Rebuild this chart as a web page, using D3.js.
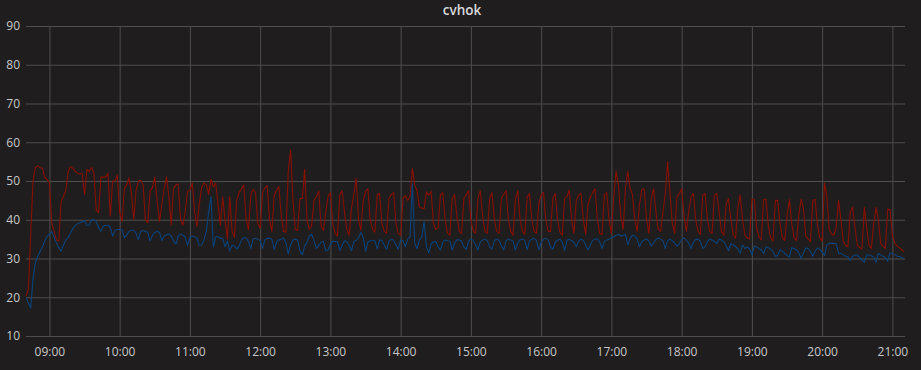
<!DOCTYPE html>
<html>
<head>
<meta charset="utf-8">
<script src="https://cdn.jsdelivr.net/npm/d3@7"></script>
<style>
  html, body { margin: 0; padding: 0; background: #1f1d1e; }
  svg { display: block; }
  text { font-family: "Open Sans", "Noto Sans", sans-serif; }
</style>
</head>
<body>
<svg id="chart" width="921" height="370"></svg>
<script>
const title = "cvhok";
const startTime = "2016-01-01T08:40:00";
const stepMinutes = 2;
const yTicks = [10, 20, 30, 40, 50, 60, 70, 80, 90];
const xTickLabels = ["09:00","10:00","11:00","12:00","13:00","14:00","15:00","16:00","17:00","18:00","19:00","20:00","21:00"];

const redSeries = [
20.3,22,36,50,53.5,53.9,53.4,53.3,51,50.3,49.6,39.1,37,34.8,34.5,44.8,46,47.5,52.5,53.7,53.3,52.5,52,51.8,52,46.5,53,52.5,53.5,52,42.5,41.8,51,51,51,52,41,50,50,51.5,42,39.5,48,49,50.8,47,40,47.5,50,50.2,49,40,39.2,47.5,48.3,51,45,39.5,44,48,51,46,38.7,48,49,49.2,40,38.6,42,47.3,47.6,49.5,42,38.2,44,48.3,
49.5,49,46.5,50.5,48.5,49.5,44,38.5,46,40,35,46,37,35.5,45,47,48,49,40,37.4,46.5,47.8,47,39,37.8,47,48.2,48.8,40,37,46.3,47.6,48.5,41,37,36.8,52.5,58,45,37.5,37.2,45.5,45.5,53,40,37.5,38.5,45,46,47.4,38.5,37.3,42,46,47,39,36.5,35.8,46.4,47.5,42,37.5,36,43,46.5,50.7,40,37.3,45,47.3,48,40,37.5,36.8,46.5,
46.8,39,37,36.5,45.5,46.5,47,39,36.5,36,45.5,46.3,45,46,53.3,49,47.5,43.3,43,42.8,47.2,46.3,47.3,39,37.5,38,46.5,47,40,36.5,36,45.5,46.5,41,37,36.5,45.5,46.5,47.5,40,37,36.5,45.5,47.5,41,37,36.5,45.5,47,40,37,36.5,45.5,46.5,47.5,40,37,36,45.3,47.5,40,37,36.3,45.8,46.8,40,37,36.5,44,46.5,47,40,37,37,45.5,
46.8,40,36.8,36,45.5,46,47.7,40,36.5,45,46.3,46.8,40,36.3,44,45.8,47,48,40,36.5,36.2,46.5,47,40,36.5,46,52.5,49,41,37.5,48,52.5,48,46.5,40,37,44,47.8,48,40,36.5,45.5,48,42,37.5,37,42,46.5,55,47,39,36.5,45.8,46.8,48,41,37,42,46,46.8,40,37,36.2,46.3,46.8,40,37,36.5,46.3,46.8,42,37,36,44,45.5,
40,36.2,35.3,43,46.4,40,36,35.3,35,45.3,45.3,38,35.5,34.8,45.3,45.3,38.5,35.3,34.5,45,45,39,35.3,34.6,41,45.2,39,35.3,34.6,41,45.3,43,35.8,35,34.3,45,45.3,38.5,35.3,34.5,49.5,46,37.5,36.3,36,38,45,40,34.5,33.4,33,42,43.3,38,33.5,32.8,32.5,43.2,38,33.4,32.6,39,43.2,40,33.8,33.2,32.6,42.8,42.6,36,34,33.2,32.8,32.2,31.8
];

const blueSeries = [
19.9,18.5,17.2,24.8,29,30.5,31.8,33,34.5,35.7,36.3,36.9,35.5,34,32.8,31.9,33.5,34.8,35.4,36.5,37.8,38.5,39,39.2,39.5,39.8,38.5,38.6,40,40,39.5,38,37,38.3,38.6,38.6,38,35.8,37.2,37.5,37.5,37.4,35.4,36,37,37.3,37.3,36.5,34.8,37,37.2,37,36.8,34.5,36,36.7,37,36.8,34.6,35.8,36.1,36.3,35.8,34.5,33.7,35.8,36.3,36,35.6,33.4,35.4,35.8,35.6,35.3,33.4,33.5,
34.8,37,42,46,33,35.6,35.6,35.2,35.2,33,34.5,31.9,33.4,33.2,32.5,33.2,34.8,35.4,35.3,34.4,32.6,35,35.2,35,34.6,32.6,34.8,35.2,35.2,35,32.3,34.2,34.8,35,35.3,34,31.2,33.5,34.8,35,34.8,32,31,33.2,34.2,35.8,36.2,34.6,32.6,33.4,34.2,34.4,32,32.2,33.7,34.5,34.4,34.4,32,33.4,34.6,34.4,33.4,32,34.4,34.7,35.3,36.7,35.5,31.8,34.3,34.6,34.6,34.6,32.4,
34.8,34.6,33.5,32.3,34.5,35,34.7,33.5,32.4,34.8,34.6,33,35,35.6,49.3,34,32.5,34.8,35.5,39.5,33,31.5,33.8,34.3,34.4,33,32.2,34.2,34.8,34.6,34.5,32.2,34,34.8,34.8,34.5,33,32.3,34.5,35,34.7,33.5,32.2,34.3,34.8,35,34.6,33,32.4,34.6,35,34.7,33.3,32.2,34.6,35,34.8,34.5,32.2,34,34.8,35,34.7,32.3,34.5,35,35.2,34.6,32.2,34.2,35,35.2,34.8,33,32.4,
34.2,34.7,35,34.2,32,34.7,35,34.6,34.2,33,34.5,35,34.7,33.5,32.2,33.5,34.7,35,35.1,34.3,32.6,34.4,34.8,35,35.3,35.6,36,36.2,35.8,36,36.2,33.5,35.2,36,35.8,35,33,34.4,34.8,35.1,34.5,33.2,34,34.9,35.3,35,34.6,32.6,34.6,35,34.6,34,33.2,33.8,35,35.3,34.7,34,32.6,34.2,34.9,35,34.4,32.6,33,34.4,35,34.8,34.4,33.8,35,34.8,34.3,33.3,32,
33.8,33.5,33.1,32.5,31.3,33.5,32.6,33,32.5,30.9,33.2,33,32.6,32.2,31.3,33,32.8,32.4,31.8,30.6,30.8,32.2,31.9,31.3,30.8,30.4,32.8,32.6,32.2,31.5,30,31.5,32.7,32.6,31.8,30.6,31.8,32.7,32.4,31.6,30.8,33.5,33.9,33.9,33.9,33.8,31.3,31.3,31,30.6,30.4,29.5,30.6,30.9,30.9,30.3,29.6,29,30.9,30.9,30.7,30.3,29,31.3,30.9,30.6,30.2,29.3,31.5,31.3,31,30.6,30.5,30.2,30
];

(function () {
const svg = d3.select("#chart");
const W = 921, H = 370;
const plotLeft = 26, plotRight = 905, plotTop = 26, plotBottom = 336;

svg.append("rect").attr("width", W).attr("height", H).attr("fill", "#1f1d1e");

const t0 = new Date(startTime);
const timeAt = i => new Date(t0.getTime() + i * stepMinutes * 60000);

const x = d3.scaleTime()
  .domain([new Date("2016-01-01T08:40:00"), new Date("2016-01-01T21:10:45")])
  .range([plotLeft, plotRight]);
const y = d3.scaleLinear().domain([10, 90]).range([plotBottom, plotTop]);

const xTickDates = xTickLabels.map(s => new Date("2016-01-01T" + s + ":00"));

const yAxis = svg.append("g")
  .attr("transform", `translate(${plotLeft},0)`)
  .call(d3.axisLeft(y).tickValues(yTicks).tickSize(-(plotRight - plotLeft)).tickPadding(6).tickFormat(d3.format("d")));
yAxis.select(".domain").remove();
yAxis.selectAll("line").attr("stroke", "#4f4e4f").attr("stroke-width", 1);
yAxis.selectAll("text").attr("fill", "#c8c8c8").attr("font-size", 12);

const xAxis = svg.append("g")
  .attr("transform", `translate(0,${plotBottom})`)
  .call(d3.axisBottom(x).tickValues(xTickDates).tickSize(-(plotBottom - plotTop)).tickPadding(11)
    .tickFormat((d, i) => xTickLabels[i]));
xAxis.select(".domain").remove();
xAxis.selectAll("line").attr("stroke", "#4f4e4f").attr("stroke-width", 1);
xAxis.selectAll("text").attr("fill", "#c8c8c8").attr("font-size", 12);

const line = d3.line()
  .x((d, i) => x(timeAt(i)))
  .y(d => y(d));

svg.append("path").datum(redSeries)
  .attr("fill", "none").attr("stroke", "#890f02").attr("stroke-width", 1.1)
  .attr("stroke-linejoin", "round").attr("d", line);
svg.append("path").datum(blueSeries)
  .attr("fill", "none").attr("stroke", "#0a437c").attr("stroke-width", 1.1)
  .attr("stroke-linejoin", "round").attr("d", line);

svg.append("text")
  .attr("x", 462).attr("y", 14.5)
  .attr("text-anchor", "middle")
  .attr("fill", "#d8d9da")
  .attr("font-size", 13.5)
  .attr("font-weight", 600)
  .text(title);
})();
</script>
</body>
</html>
